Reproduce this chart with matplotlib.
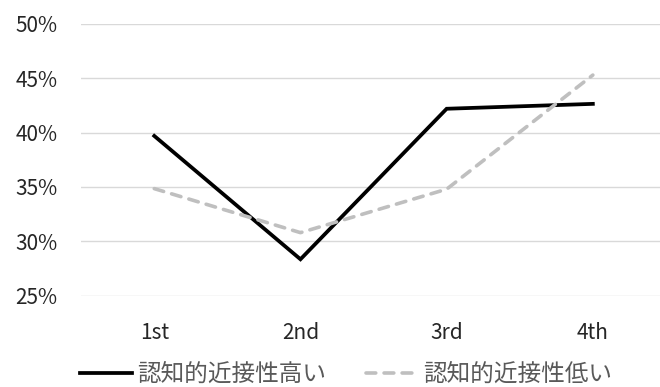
import matplotlib.pyplot as plt
from matplotlib.ticker import FuncFormatter

plt.rcParams['font.family'] = ['Noto Sans CJK JP', 'DejaVu Sans']

categories = ["1st", "2nd", "3rd", "4th"]
high = [39.7, 28.35, 42.2, 42.65]
low = [34.85, 30.8, 34.8, 45.3]
series_names = ["認知的近接性高い", "認知的近接性低い"]
yticks = [25, 30, 35, 40, 45, 50]

fig = plt.figure(figsize=(6.6, 3.87), dpi=100)
ax = fig.add_axes([0.123, 0.236, 0.886, 0.702])

x = range(len(categories))
ax.plot(x, high, color="black", lw=2.7, label=series_names[0], solid_joinstyle="miter")
ax.plot(x, low, color="#BFBFBF", lw=2.6, dashes=(2.7, 2.3), dash_capstyle="round",
        label=series_names[1])

ax.set_xlim(-0.5, 3.5)
ax.set_ylim(25, 50)
ax.set_yticks(yticks)
ax.yaxis.set_major_formatter(FuncFormatter(lambda v, p: f"{v:.0f}%"))
ax.set_xticks(list(x))
ax.set_xticklabels(categories)
ax.grid(axis="y", color="#D9D9D9", lw=1)
ax.set_axisbelow(True)
for s in ax.spines.values():
    s.set_visible(False)
ax.tick_params(length=0, labelsize=15, colors="#262626")
ax.tick_params(axis="y", pad=17)
ax.tick_params(axis="x", pad=19)

# reference legend sits at the very bottom edge; keep it just inside
ax.legend(loc="center", bbox_to_anchor=(0.453, -0.29), ncol=2, frameon=False,
          fontsize=17, handlelength=2.2, handletextpad=0.2, columnspacing=1.7,
          labelcolor="#595959", borderpad=0.1)

fig.savefig("out.png", dpi=100)
